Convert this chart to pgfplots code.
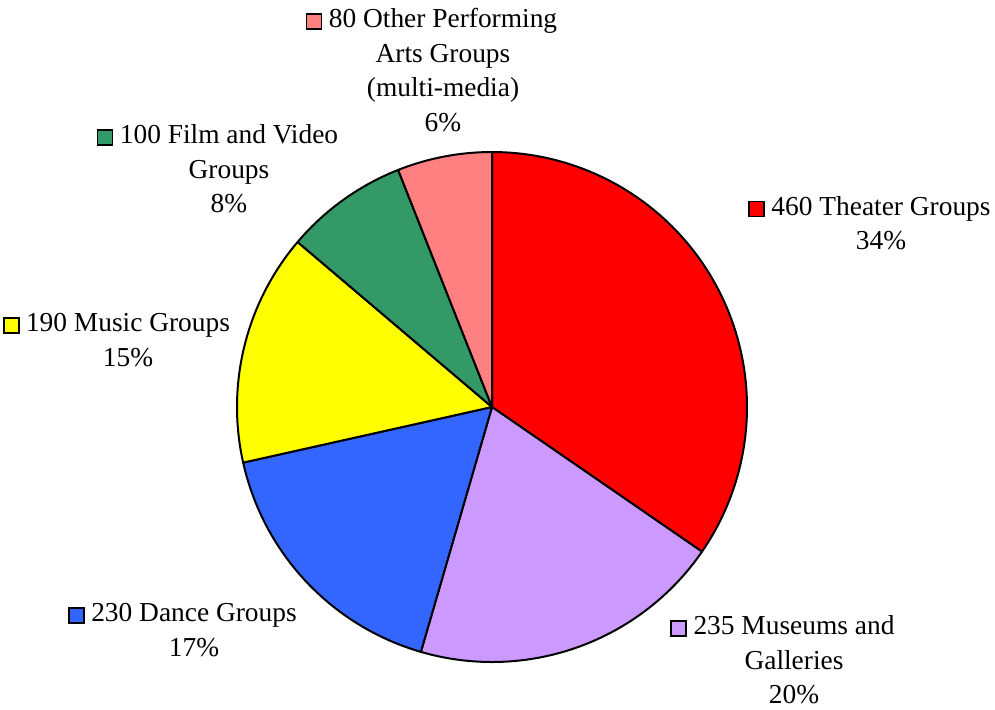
\documentclass[border=0pt]{standalone}
\usepackage{pgfplots}
\pgfplotsset{compat=1.18}
\usepackage{fontspec}
\setmainfont{Liberation Serif}
\definecolor{theater}{HTML}{FF0000}
\definecolor{museum}{HTML}{CC99FF}
\definecolor{dance}{HTML}{3366FF}
\definecolor{music}{HTML}{FFFF00}
\definecolor{film}{HTML}{339966}
\definecolor{other}{HTML}{FF8080}
\newcommand\key[1]{\llap{\raisebox{-0.3pt}{\setlength\fboxsep{0pt}\setlength\fboxrule{0.9pt}\fcolorbox{black}{#1}{\rule{0pt}{6.6pt}\rule{6.6pt}{0pt}}}\hspace{3.2pt}}}
\begin{document}
\begin{tikzpicture}
\begin{axis}[
  width=497.5pt, height=354.5pt, scale only axis,
  xmin=0, xmax=995, ymin=0, ymax=709, y dir=reverse,
  hide axis, clip=false,
]
\def\cum{90}
\pgfplotsforeachungrouped \p/\c in {34.6/theater, 19.9/museum, 17.0/dance, 14.7/music, 7.8/film, 6.0/other}{
  \pgfmathsetmacro\a{\cum}
  \pgfmathsetmacro\b{\cum-3.6*\p}
  \edef\temp{\noexpand\addplot[fill=\c, draw=black, line width=1pt, line join=round, domain=\b:\a, samples=90, variable=\noexpand\t] ({492+255*cos(\noexpand\t)},{407-255*sin(\noexpand\t)}) -- (492,407) -- cycle;}
  \temp
  \global\let\cum\b
}
\begin{scope}[every node/.style={align=center, inner sep=0pt, font=\fontsize{13.7pt}{17.3pt}\selectfont}]
\node at (881,223) {\key{theater}460 Theater Groups\\34\%};
\node at (794,660) {\key{museum}235 Museums and\\Galleries\\20\%};
\node at (194,630) {\key{dance}230 Dance Groups\\17\%};
\node at (128,340) {\key{music}190 Music Groups\\15\%};
\node at (229,169) {\key{film}100 Film and Video\\Groups\\8\%};
\node at (443,70) {\key{other}80 Other Performing\\Arts Groups\\(multi-media)\\6\%};
\end{scope}
\end{axis}
\pgfresetboundingbox
\useasboundingbox (current axis.south west) rectangle (current axis.north east);
\end{tikzpicture}
\end{document}
